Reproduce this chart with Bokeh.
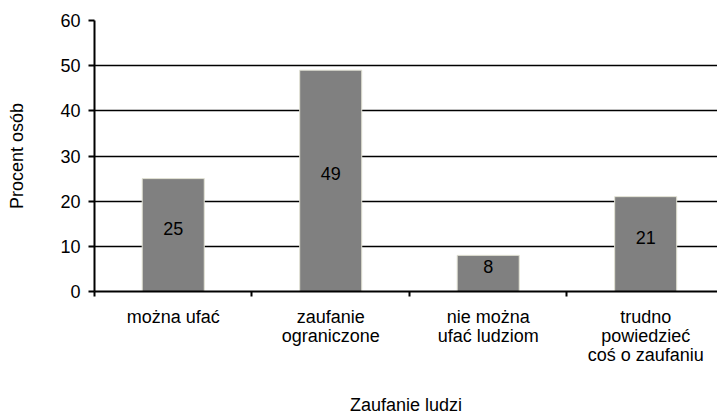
from bokeh.plotting import figure
from bokeh.models import Range1d, FixedTicker
from bokeh.core.properties import value
from bokeh.embed import file_html
from bokeh.resources import INLINE

categories = ["można ufać", "zaufanie\nograniczone", "nie można\nufać ludziom", "trudno\npowiedzieć\ncoś o zaufaniu"]
values = [25, 49, 8, 21]
y_ticks = [0, 10, 20, 30, 40, 50, 60]
x_title = "Zaufanie ludzi"
y_title = "Procent osób"

FONT = "Liberation Sans"
FS = "18px"

xs = [i + 0.5 for i in range(len(categories))]

p = figure(width=717, height=417, output_backend="svg", toolbar_location=None,
           x_range=Range1d(0, 3.956), y_range=Range1d(0, 60),
           min_border_left=94, min_border_top=20, min_border_bottom=124, min_border_right=0)
p.outline_line_color = None
p.background_fill_color = "white"
p.border_fill_color = "white"

p.vbar(x=xs, top=values, width=0.394, bottom=0, fill_color="#808080", line_color="#e2e2d4", line_width=1)
p.text(x=xs, y=[v / 2 for v in values], text=[str(v) for v in values],
       text_align="center", text_baseline="middle", y_offset=-7,
       text_font=value(FONT), text_font_size=FS, text_color="#000000")

# x axis
p.xaxis.ticker = FixedTicker(ticks=xs, minor_ticks=[0, 1, 2, 3, 4])
p.xaxis.major_label_overrides = {x: c for x, c in zip(xs, categories)}
p.xaxis.major_tick_out = 0
p.xaxis.major_tick_in = 0
p.xaxis.minor_tick_out = 5
p.xaxis.minor_tick_in = 0
p.xaxis.minor_tick_line_color = "black"
p.xaxis.minor_tick_line_width = 2
p.xaxis.axis_line_width = 2
p.xaxis.axis_line_color = "black"
p.xaxis.major_label_text_font = FONT
p.xaxis.major_label_text_font_size = FS
p.xaxis.major_label_text_color = "black"
p.xaxis.major_label_text_line_height = 0.95
p.xaxis.major_label_standoff = 10
p.xaxis.axis_label = x_title
p.xaxis.axis_label_text_font = FONT
p.xaxis.axis_label_text_font_size = FS
p.xaxis.axis_label_text_font_style = "normal"
p.xaxis.axis_label_text_color = "black"
p.xaxis.axis_label_standoff = 27

# y axis
p.yaxis.ticker = FixedTicker(ticks=y_ticks, minor_ticks=[])
p.yaxis.major_tick_out = 6
p.yaxis.major_tick_in = 0
p.yaxis.major_tick_line_width = 2
p.yaxis.major_tick_line_color = "black"
p.yaxis.axis_line_width = 2
p.yaxis.axis_line_color = "black"
p.yaxis.major_label_text_font = FONT
p.yaxis.major_label_text_font_size = FS
p.yaxis.major_label_text_color = "black"
p.yaxis.major_label_standoff = 8
p.yaxis.axis_label = y_title
p.yaxis.axis_label_text_font = FONT
p.yaxis.axis_label_text_font_size = FS
p.yaxis.axis_label_text_font_style = "normal"
p.yaxis.axis_label_text_color = "black"
p.yaxis.axis_label_standoff = 30

p.xgrid.grid_line_color = None
p.ygrid.ticker = FixedTicker(ticks=y_ticks)
p.ygrid.grid_line_color = "black"
p.ygrid.grid_line_width = 1.3

open("out.html", "w").write(file_html(p, INLINE))
